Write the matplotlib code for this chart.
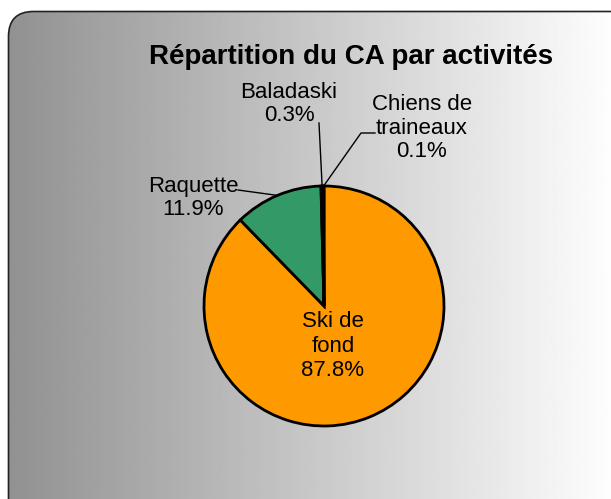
import numpy as np
import matplotlib.pyplot as plt
from matplotlib.patches import FancyBboxPatch

plt.rcParams['font.family'] = ['Liberation Sans', 'DejaVu Sans']

activites = ['Ski de fond', 'Raquette', 'Baladaski', 'Chiens de traineaux']
labels = ['Ski de\nfond', 'Raquette', 'Baladaski', 'Chiens de\ntraineaux']
pct = [87.8, 11.9, 0.3, 0.1]
colors = ['#FF9900', '#339966', '#333399', '#993366']

W, H = 611, 499
fig = plt.figure(figsize=(W / 100, H / 100), dpi=100)

# background: rounded box with horizontal grey gradient
bg = fig.add_axes([0, 0, 1, 1])
bg.set_xlim(0, W)
bg.set_ylim(H, 0)
bg.axis('off')
box = FancyBboxPatch((8.5, 11.5), 640, 520, boxstyle='round,pad=0,rounding_size=25',
                     facecolor='none', edgecolor='#222222', lw=1.2, zorder=2)
bg.add_patch(box)
grad = np.linspace(0.57, 1.0, 256).reshape(1, -1)
im = bg.imshow(grad, extent=[8, 620, 531, 11], cmap='gray', vmin=0, vmax=1,
               aspect='auto', zorder=1)
im.set_clip_path(box)
bg.set_xlim(0, W)
bg.set_ylim(H, 0)

bg.text(351, 57, 'Répartition du CA par activités', ha='center', va='center',
        fontsize=20, fontweight='bold', color='black', zorder=3)

# pie
cx, cy, r = 324, 306, 120
ax = fig.add_axes([(cx - r) / W, (H - cy - r) / H, 2 * r / W, 2 * r / H])
wedges, _ = ax.pie(pct, colors=colors, startangle=90, counterclock=False,
                   wedgeprops=dict(edgecolor='black', linewidth=2.0))
ax.set_xlim(-1, 1)
ax.set_ylim(-1, 1)
ax.set_aspect('equal')
ax.set_clip_on(False)
for w in wedges:
    w.set_clip_on(False)


def px(x, y):
    return (x - cx) / r, (cy - y) / r


def mid(w, rad=1.0):
    a = np.deg2rad((w.theta1 + w.theta2) / 2)
    return rad * np.cos(a), rad * np.sin(a)


txt = [f'{l}\n{p:.1f}%' for l, p in zip(labels, pct)]
fs = 16

ax.text(*px(333, 346), txt[0], ha='center', va='center', fontsize=fs,
        linespacing=1.2, clip_on=False)

ax.text(*px(193, 198), txt[1], ha='center', va='center', fontsize=fs,
        linespacing=1.15, clip_on=False)
mx, my = mid(wedges[1])
sx, sy = px(238, 190)
ax.plot([sx, mx], [sy, my], color='black', lw=1, clip_on=False)

ax.text(*px(289, 104), txt[2], ha='center', va='center', fontsize=fs,
        linespacing=1.15, clip_on=False)
mx, my = mid(wedges[2])
sx, sy = px(319, 123)
ax.plot([sx, mx], [sy, my], color='black', lw=1, clip_on=False)

ax.text(*px(422, 128), txt[3], ha='center', va='center', fontsize=fs,
        linespacing=1.15, clip_on=False)
mx, my = mid(wedges[3])
ex, ey = px(375, 133)
bx, by = px(361, 133)
ax.plot([ex, bx, mx], [ey, by, my], color='black', lw=1, clip_on=False)

fig.savefig('out.png', dpi=100)
